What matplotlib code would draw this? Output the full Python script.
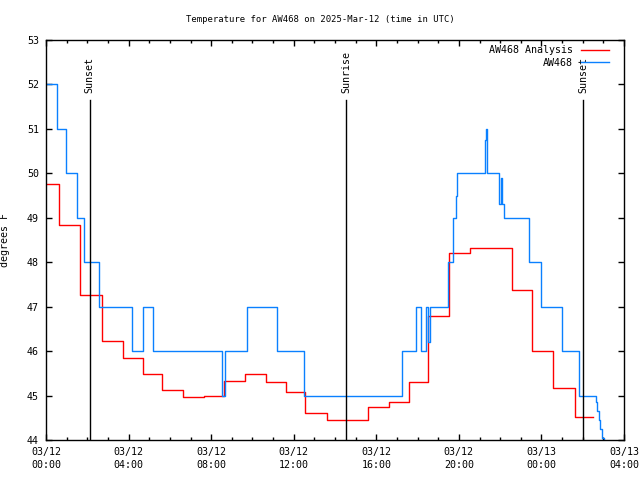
"""Recreate the AW468 temperature chart (analysis vs. station, 2025-03-12)."""

import matplotlib

matplotlib.use("Agg")
import matplotlib.pyplot as plt  # noqa: E402
from matplotlib.lines import Line2D  # noqa: E402

# hours since 03/12 00:00 UTC at which each value starts (drawn as steps)
ANALYSIS_HOURS = [0.0, 0.64, 1.66, 2.70, 3.71, 4.70, 5.61, 6.64, 7.63, 8.64,
                  9.65, 10.66, 11.65, 12.57, 13.59, 15.60, 16.62, 17.60, 18.52,
                  19.54, 20.56, 22.59, 23.56, 24.58, 25.63, 26.48]
ANALYSIS_TEMPS = [49.76, 48.83, 47.26, 46.22, 45.84, 45.48, 45.12, 44.96, 45.00,
                  45.32, 45.48, 45.30, 45.07, 44.61, 44.44, 44.74, 44.86, 45.30,
                  46.78, 48.20, 48.31, 47.37, 46.00, 45.16, 44.51, 44.51]

STATION_HOURS = [0.0, 0.55, 0.97, 1.49, 1.83, 2.59, 4.19, 4.69, 5.20, 8.53,
                 8.65, 9.73, 11.17, 12.50, 17.26, 17.92, 18.19, 18.43, 18.50,
                 18.60, 19.49, 19.70, 19.73, 19.86, 19.93, 21.27, 21.30, 21.34,
                 21.96, 22.03, 22.10, 22.18, 23.42, 23.99, 24.99, 25.84, 26.62,
                 26.70, 26.78, 26.86, 26.94, 27.02, 27.10]
STATION_TEMPS = [52, 51, 50, 49, 48, 47, 46, 47, 46, 45,
                 46, 47, 46, 45, 46, 47, 46, 47, 46.2,
                 47, 48, 48.5, 49, 49.5, 50, 50.75, 51, 50,
                 49.3, 49.9, 49.3, 49, 48, 47, 46, 45, 44.85,
                 44.65, 44.45, 44.25, 44.05, 43.85, 43.85]

SUN_HOURS = [2.12, 14.53, 26.02]
SUN_LABELS = ["Sunset", "Sunrise", "Sunset"]

TICK_HOURS = [0, 4, 8, 12, 16, 20, 24, 28]
TICK_LABELS = ["03/12\n00:00", "03/12\n04:00", "03/12\n08:00", "03/12\n12:00",
               "03/12\n16:00", "03/12\n20:00", "03/13\n00:00", "03/13\n04:00"]
Y_TICKS = [44, 45, 46, 47, 48, 49, 50, 51, 52, 53]

RED = "#ff0000"
BLUE = "#0a80ff"
FS = 7.2

plt.rcParams["font.family"] = ["DejaVu Sans Mono"]
plt.rcParams["font.size"] = FS


def main() -> None:
    fig = plt.figure(figsize=(6.4, 4.8), dpi=100)
    ax = fig.add_axes([46 / 640, 40 / 480, 578 / 640, 400 / 480])

    ax.plot(ANALYSIS_HOURS, ANALYSIS_TEMPS, drawstyle="steps-post",
            color=RED, lw=1.0)
    ax.plot(STATION_HOURS, STATION_TEMPS, drawstyle="steps-post",
            color=BLUE, lw=1.0)

    for hour, label in zip(SUN_HOURS, SUN_LABELS):
        ax.axvline(hour, ymin=0, ymax=0.85, color="black", lw=1.0)
        ax.text(hour, 0.868, label, transform=ax.get_xaxis_transform(),
                rotation=90, ha="center", va="bottom", fontsize=FS)

    ax.set_xlim(0, 28)
    ax.set_ylim(44, 53)
    ax.set_xticks(TICK_HOURS)
    ax.set_xticklabels(TICK_LABELS, fontsize=FS, linespacing=1.35)
    ax.set_xticks(range(0, 29), minor=True)
    ax.set_yticks(Y_TICKS)
    ax.set_yticklabels([str(v) for v in Y_TICKS], fontsize=FS)
    ax.tick_params(which="both", direction="in", top=True, right=True,
                   width=1.0, color="black")
    ax.tick_params(which="major", length=4.5, pad=5)
    ax.tick_params(which="minor", length=2.5)
    for spine in ax.spines.values():
        spine.set_linewidth(1.0)

    ax.set_ylabel("degrees F", fontsize=FS)
    ax.yaxis.set_label_coords(-0.062, 0.5)

    fig.suptitle("Temperature for AW468 on 2025-Mar-12 (time in UTC)",
                 x=0.5, y=1 - 19 / 480, va="center", fontsize=6.4)

    handles = [Line2D([], [], color=RED, lw=1.0),
               Line2D([], [], color=BLUE, lw=1.0)]
    ax.legend(handles, ["AW468 Analysis", "AW468"], loc="upper right",
              bbox_to_anchor=(0.986, 1.005), frameon=False, markerfirst=False,
              handlelength=2.8, handletextpad=0.8, labelspacing=0.25,
              borderaxespad=0.3, fontsize=FS)

    fig.savefig("out.png", dpi=100)
    plt.close(fig)


if __name__ == "__main__":
    main()
